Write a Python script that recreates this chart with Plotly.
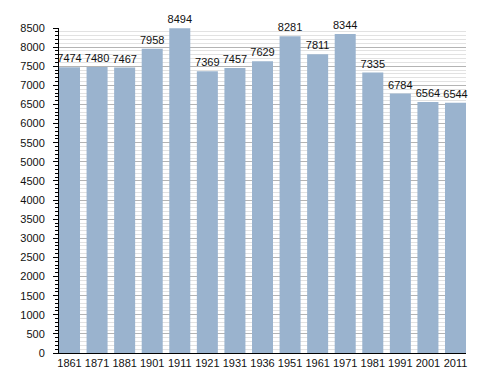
import plotly.graph_objects as go

years = ["1861", "1871", "1881", "1901", "1911", "1921", "1931", "1936", "1951", "1961", "1971", "1981", "1991", "2001", "2011"]
population = [7474, 7480, 7467, 7958, 8494, 7369, 7457, 7629, 8281, 7811, 8344, 7335, 6784, 6564, 6544]

bw = 0.762
fig = go.Figure()
fig.add_trace(go.Bar(
    x=years, y=population,
    marker=dict(color="#9ab3ce", line=dict(width=0)),
    text=[str(v) for v in population],
    textposition="outside",
    constraintext="none",
    textfont=dict(family="Liberation Sans, Arial", size=11, color="#111"),
    cliponaxis=False,
    width=bw,
))
fig.update_layout(
    width=488, height=373,
    margin=dict(l=51, r=30, t=20, b=20),
    paper_bgcolor="white", plot_bgcolor="white",
    showlegend=False,
    font=dict(family="Liberation Sans, Arial", size=11, color="#111"),
    xaxis=dict(type="category", range=[-bw / 2, len(years) - 1 + bw / 2],
               showline=True, linecolor="black", linewidth=1,
               ticks="", tickfont=dict(size=11), showgrid=False),
    yaxis=dict(range=[0, 8500], dtick=500, tick0=0, showline=True, linecolor="black", linewidth=1,
               ticks="outside", ticklen=5, tickcolor="black", ticklabelstandoff=6,
               gridcolor="#b4b4b4", gridwidth=1, zeroline=False, automargin=False,
               minor=dict(dtick=100, showgrid=True, gridcolor="#e2e2e2", ticks="outside",
                          ticklen=3, tickcolor="black")),
)
fig.write_html("out.html")
